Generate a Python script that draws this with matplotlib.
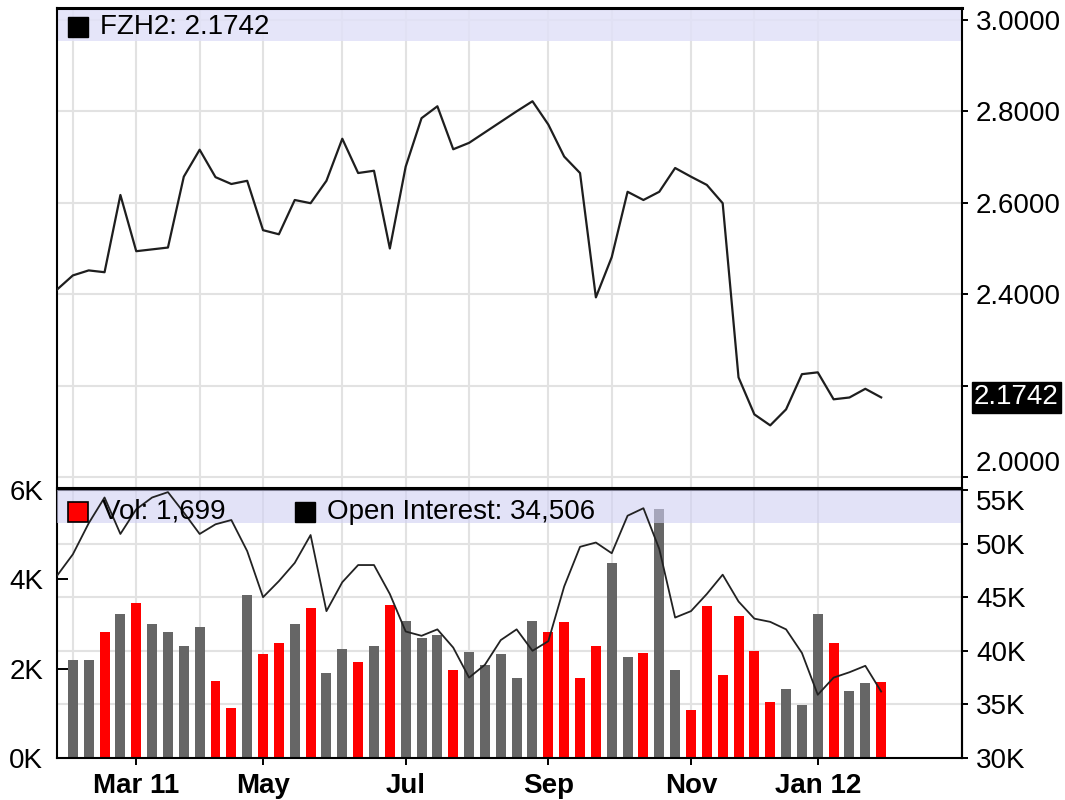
import matplotlib
matplotlib.use("Agg")
import matplotlib.pyplot as plt
import matplotlib.transforms as mtransforms
from matplotlib.patches import Rectangle
import numpy as np
import pandas as pd

plt.rcParams['font.family'] = ['Liberation Sans', 'DejaVu Sans']

# weekly data, Mondays
dates = pd.date_range('2011-01-31', periods=53, freq='7D')

price = [2.410, 2.441, 2.452, 2.448, 2.617, 2.494, 2.498, 2.502, 2.657, 2.716,
         2.656, 2.641, 2.648, 2.540, 2.531, 2.606, 2.599, 2.648, 2.740, 2.665,
         2.670, 2.500, 2.679, 2.785, 2.811, 2.717, 2.731, 2.754, 2.777, 2.800,
         2.822, 2.771, 2.701, 2.665, 2.393, 2.481, 2.624, 2.606, 2.624, 2.676,
         2.657, 2.639, 2.599, 2.218, 2.137, 2.113, 2.148, 2.225, 2.229, 2.170,
         2.174, 2.193, 2.1742]

# volume starts with the second week
volume = [2200, 2200, 2820, 3230, 3480, 3000, 2820, 2510, 2940, 1720,
          1120, 3660, 2330, 2570, 3000, 3360, 1900, 2450, 2140, 2500,
          3420, 3060, 2690, 2750, 1960, 2380, 2080, 2320, 1780, 3070,
          2810, 3050, 1790, 2510, 4370, 2270, 2340, 5570, 1970, 1070,
          3410, 1850, 3170, 2390, 1250, 1540, 1190, 3230, 2570, 1490,
          1670, 1699]

open_interest = [47000, 49000, 51900, 54300, 50900, 53200, 54300, 54800, 52900, 50900,
                 51800, 52200, 49300, 45000, 46500, 48200, 50800, 43700, 46400, 48000,
                 48000, 45300, 41800, 41400, 42000, 40300, 37500, 38700, 41000, 42000,
                 40000, 40900, 46000, 49700, 50100, 49100, 52600, 53300, 49500, 43100,
                 43700, 45300, 47100, 44600, 43000, 42700, 42000, 39800, 35900, 37500,
                 38000, 38600, 36200]
oi_latest = 34506

symbol = 'FZH2'
price_ticks = [2.0, 2.2, 2.4, 2.6, 2.8, 3.0]
vol_ticks = [0, 2000, 4000, 6000]
oi_ticks = [30000, 35000, 40000, 45000, 50000, 55000]

GRID = '#e2e2e2'
RED = '#ff0000'
GRAY = '#666666'
BAND = '#e1e1f8'

x = np.arange(len(dates))
xmax = 57.1
month_idx = [i for i in range(1, len(dates)) if dates[i].month != dates[i - 1].month]
label_idx = [i for i in month_idx if dates[i].month % 2 == 1]
labels = []
for k, i in enumerate(label_idx):
    lab = dates[i].strftime('%b')
    if k == 0 or dates[i].month == 1:
        lab += dates[i].strftime(' %y')
    labels.append(lab)

fig = plt.figure(figsize=(10.65, 8), dpi=100)
L, R = 57 / 1065, 962 / 1065
ax_p = fig.add_axes([L, 1 - 488 / 800, R - L, 480 / 800])
ax_v = fig.add_axes([L, 1 - 758 / 800, R - L, 268 / 800])
ax_oi = ax_v.twinx()

# ---- price panel
for m in month_idx:
    ax_p.axvline(m, color=GRID, lw=1.5, zorder=0)
for t in price_ticks:
    ax_p.axhline(t, color=GRID, lw=1.5, zorder=0)
ax_p.add_patch(Rectangle((0, 0.931), 1, 0.08, transform=ax_p.transAxes,
                         facecolor=BAND, edgecolor='none', alpha=0.85, zorder=1))
ax_p.plot(x, price, color='#1e1e1e', lw=1.6, zorder=3)
ax_p.set_xlim(0, xmax)
ax_p.set_ylim(1.976, 3.026)
ax_p.set_xticks([])
ax_p.yaxis.tick_right()
ax_p.set_yticks(price_ticks)
ax_p.set_yticklabels(['' if abs(t - 2.2) < 1e-9 else f'{t:.4f}' for t in price_ticks])
ax_p.tick_params(axis='y', direction='out', length=4, width=1.4, labelsize=20, pad=6)
ax_p.yaxis.get_major_ticks()[0].label2.set_verticalalignment('bottom')
for s in ['left', 'right', 'bottom']:
    ax_p.spines[s].set_linewidth(1.5)
ax_p.spines['top'].set_linewidth(2.2)

trans = mtransforms.blended_transform_factory(ax_p.transAxes, ax_p.transData)
ax_p.text(1.013, price[-1], f'{price[-1]:.4f}', transform=trans, color='white',
          fontsize=20, va='center', ha='left',
          bbox=dict(boxstyle='square,pad=0.08', fc='black', ec='black'))

ax_p.plot([0.0232], [0.960], marker='s', ms=14, color='black', transform=ax_p.transAxes,
          clip_on=False, zorder=5)
ax_p.text(0.0475, 0.960, f'{symbol}: {price[-1]:.4f}', transform=ax_p.transAxes,
          fontsize=20, va='center', ha='left', zorder=5)

# ---- volume / open interest panel
vol_lim = (0, 6000)
oi_lim = (30000, 55000)
for m in month_idx:
    ax_v.axvline(m, color=GRID, lw=1.5, zorder=0)
for t in oi_ticks[1:-1]:
    v = vol_lim[0] + (t - oi_lim[0]) * (vol_lim[1] - vol_lim[0]) / (oi_lim[1] - oi_lim[0])
    ax_v.axhline(v, color=GRID, lw=1.5, zorder=0)

colors = [RED if price[i] < price[i - 1] else GRAY for i in range(1, len(price))]
ax_v.bar(x[1:], volume, width=0.63, color=colors, zorder=2)
ax_v.add_patch(Rectangle((0, 0.877), 1, 0.123, transform=ax_v.transAxes,
                         facecolor='#d0d0f3', edgecolor='none', alpha=0.6, zorder=3))
ax_v.set_xlim(0, xmax)
ax_v.set_ylim(*vol_lim)
ax_v.set_yticks(vol_ticks)
ax_v.set_yticklabels([f'{t // 1000}K' for t in vol_ticks])
ax_v.tick_params(axis='y', direction='in', length=8, width=1.4, labelsize=20, pad=10)
ax_v.set_xticks(label_idx)
ax_v.set_xticklabels(labels, fontweight='bold')
ax_v.tick_params(axis='x', direction='out', length=5, width=1.4, labelsize=20, pad=6)
for s in ax_v.spines.values():
    s.set_linewidth(1.5)

ax_oi.plot(x, open_interest, color='#222222', lw=1.3, zorder=3)
ax_oi.set_ylim(*oi_lim)
ax_oi.set_yticks(oi_ticks)
ax_oi.set_yticklabels([f'{t // 1000}K' for t in oi_ticks])
ax_oi.tick_params(axis='y', direction='out', length=4, width=1.4, labelsize=20, pad=6)
ax_oi.yaxis.get_major_ticks()[-1].label2.set_verticalalignment('top')
for s in ['left', 'top', 'bottom']:
    ax_oi.spines[s].set_visible(False)
ax_oi.spines['right'].set_linewidth(1.5)

ax_oi.plot([0.0232], [0.918], marker='s', ms=14, mfc=RED, mec='black', mew=1.2,
           transform=ax_oi.transAxes, clip_on=False, zorder=5)
ax_oi.text(0.0497, 0.918, f'Vol: {volume[-1]:,}', transform=ax_oi.transAxes,
           fontsize=20, va='center', ha='left', zorder=5)
ax_oi.plot([0.2735], [0.918], marker='s', ms=14, color='black',
           transform=ax_oi.transAxes, clip_on=False, zorder=5)
ax_oi.text(0.298, 0.918, f'Open Interest: {oi_latest:,}', transform=ax_oi.transAxes,
           fontsize=20, va='center', ha='left', zorder=5)

fig.savefig('out.png', dpi=100)
